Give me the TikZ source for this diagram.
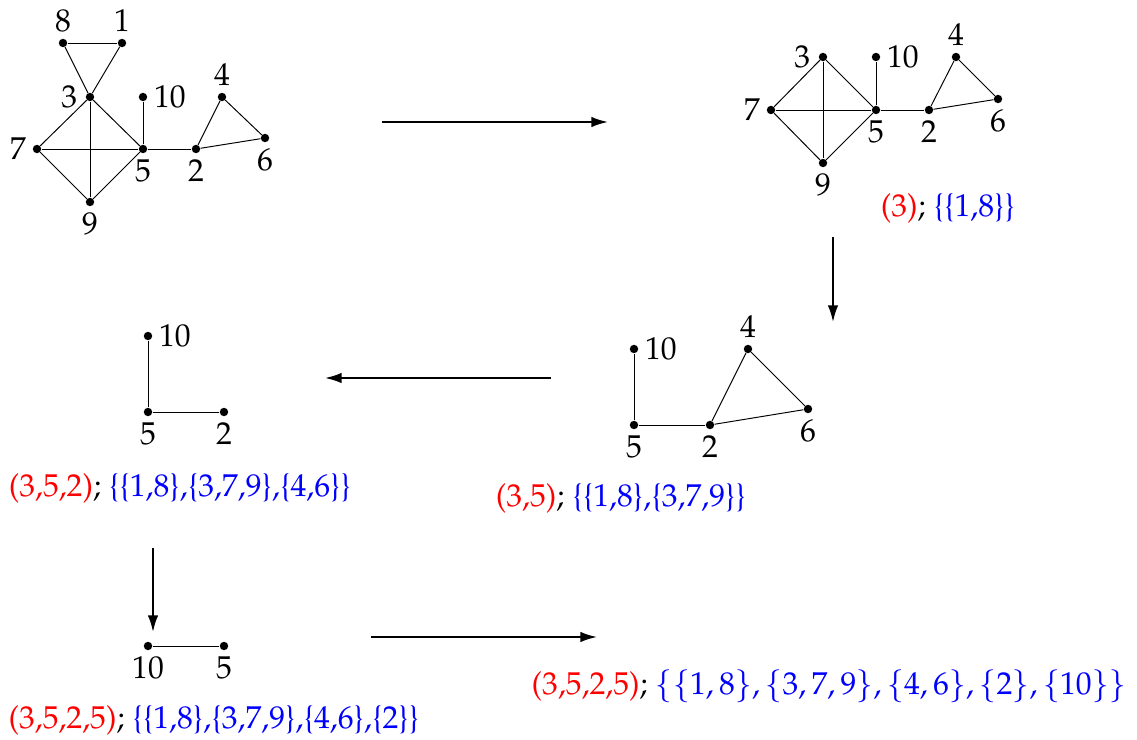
\documentclass[tikz,border=0pt]{standalone}
\usepackage[T1]{fontenc}
\usepackage{mathpazo}
\usepackage{xcolor}
\usepackage{tikz}
\usetikzlibrary{arrows.meta}
\tikzset{
  vertex/.style={circle, fill=black, inner sep=0pt, minimum size=4.8pt},
  edge/.style={line width=0.55pt},
  stepflow/.style={line width=1.1pt, -{Latex[length=9.5pt,width=6pt]}},
  steptext/.style={inner sep=0pt, anchor=center}
}
\newcommand{\pth}[1]{\textcolor{red}{#1}}
\newcommand{\cls}[1]{\textcolor{blue}{#1}}
\begin{document}
\begin{tikzpicture}[x=0.02cm,y=-0.02cm, every label/.style={inner sep=3.5pt}, font=\fontsize{18}{21}\selectfont]
\useasboundingbox (0,0) rectangle (1137,740);
% Original graph
\node[vertex, label=above:8] (a8) at (63,43) {};
\node[vertex, label=above:1] (a1) at (122,43) {};
\node[vertex, label={[xshift=-1pt]left:3}] (a3) at (90,97) {};
\node[vertex, label=right:10] (a10) at (143,97) {};
\node[vertex, label=above:4] (a4) at (222,97) {};
\node[vertex, label=left:7] (a7) at (37,149) {};
\node[vertex, label=below:5] (a5) at (143,149) {};
\node[vertex, label=below:2] (a2) at (196,149) {};
\node[vertex, label=below:6] (a6) at (265,138) {};
\node[vertex, label=below:9] (a9) at (90,202) {};
\foreach \u/\v in {8/1,8/3,1/3,3/7,3/5,3/9,7/5,7/9,9/5,5/10,5/2,2/4,4/6,2/6}
  \draw[edge] (a\u) -- (a\v);
% After removing 3's block {1,8}
\node[vertex, label={[xshift=-1pt]left:3}] (b3) at (823,57) {};
\node[vertex, label=right:10] (b10) at (876,57) {};
\node[vertex, label=above:4] (b4) at (956,57) {};
\node[vertex, label=left:7] (b7) at (771,110) {};
\node[vertex, label=below:5] (b5) at (876,110) {};
\node[vertex, label=below:2] (b2) at (929,110) {};
\node[vertex, label=below:6] (b6) at (998,99) {};
\node[vertex, label=below:9] (b9) at (823,163) {};
\foreach \u/\v in {3/7,3/5,3/9,7/5,7/9,9/5,5/10,5/2,2/4,4/6,2/6}
  \draw[edge] (b\u) -- (b\v);
\node[steptext] (btxt) at (948,208) {\pth{(3)}; \cls{\{\{1,8\}\}}};
% Stack (3,5)
\node[vertex, label=right:10] (c10) at (634,349) {};
\node[vertex, label=above:4] (c4) at (748,349) {};
\node[vertex, label=below:5] (c5) at (634,425) {};
\node[vertex, label=below:2] (c2) at (710,425) {};
\node[vertex, label=below:6] (c6) at (808,409) {};
\foreach \u/\v in {5/10,5/2,2/4,4/6,2/6}
  \draw[edge] (c\u) -- (c\v);
\node[steptext] (ctxt) at (621,498) {\pth{(3,5)}; \cls{\{\{1,8\},\{3,7,9\}\}}};
% Stack (3,5,2)
\node[vertex, label=right:10] (d10) at (148,336) {};
\node[vertex, label=below:5] (d5) at (148,412) {};
\node[vertex, label=below:2] (d2) at (224,412) {};
\draw[edge] (d5) -- (d10);
\draw[edge] (d5) -- (d2);
\node[steptext] (dtxt) at (180,488) {\pth{(3,5,2)}; \cls{\{\{1,8\},\{3,7,9\},\{4,6\}\}}};
% Stack (3,5,2,5)
\node[vertex, label=below:10] (e10) at (148,646) {};
\node[vertex, label=below:5] (e5) at (224,646) {};
\draw[edge] (e10) -- (e5);
\node[steptext] (etxt) at (214,720) {\pth{(3,5,2,5)}; \cls{\{\{1,8\},\{3,7,9\},\{4,6\},\{2\}\}}};
% Final result
\node[steptext] (ftxt) at (829,686) {\pth{(3,5,2,5)}; \cls{$\{\{1,8\},\{3,7,9\},\{4,6\},\{2\},\{10\}\}$}};
% Arrows between steps
\coordinate (s1) at (382,122); \coordinate (t1) at (608,122);
\coordinate (s2) at (833,237); \coordinate (t2) at (833,322);
\coordinate (s3) at (551,378); \coordinate (t3) at (325,378);
\coordinate (s4) at (153,548); \coordinate (t4) at (153,632);
\coordinate (s5) at (371,637); \coordinate (t5) at (597,637);
\foreach \i in {1,...,5}
  \draw[stepflow] (s\i) -- (t\i);
\end{tikzpicture}
\end{document}
